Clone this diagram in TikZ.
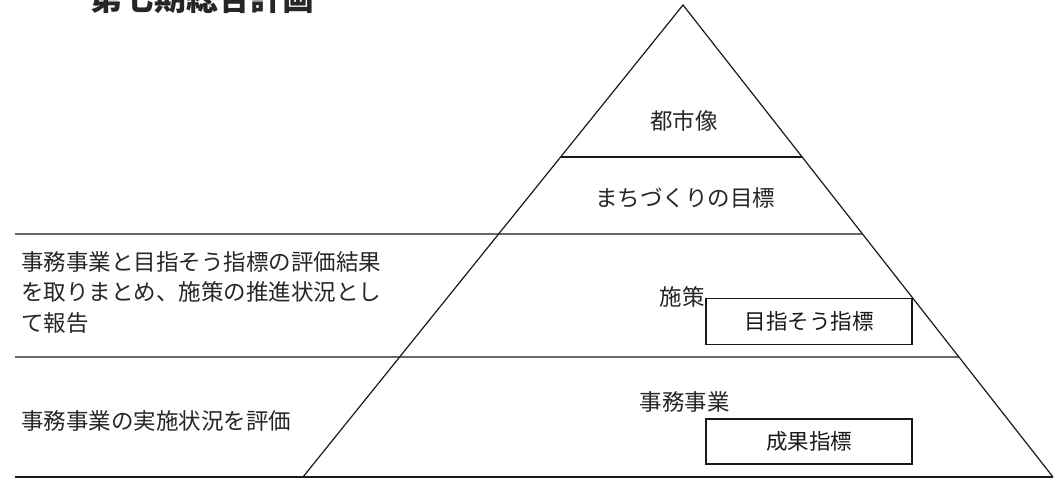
\documentclass[tikz,border=0pt]{standalone}
\usepackage{fontspec}
\setmainfont{Noto Sans CJK JP}
\usetikzlibrary{calc}
\begin{document}
\begin{tikzpicture}[x=1pt,y=-1pt,
  edge/.style={line width=1.2pt, draw=black!90},
  lbl/.style={inner sep=0pt, text=black!85, font=\fontsize{22.5}{30.3}\selectfont},
  indbox/.style={draw=black!90, line width=1.2pt, minimum width=206pt, minimum height=46pt, inner sep=0pt, text=black!90, font=\fontsize{21.5}{26}\selectfont}]
\useasboundingbox (0,0) rectangle (1061,480);
% pyramid
\coordinate (A) at (683,5);
\coordinate (BL) at (303,477);
\coordinate (BR) at (1053,477);
\coordinate (L2) at (15,234);
\coordinate (L3) at (15,357);
\coordinate (L4) at (15,477);
\draw[edge] (BL) -- (A) -- (BR);
\draw[edge] ($(A)!0.322!(BL)$) -- ($(A)!0.322!(BR)$);
\draw[edge] (L2) -- ($(A)!0.485!(BR)$);
\draw[edge] (L3) -- ($(A)!0.7458!(BR)$);
\draw[edge] (L4) -- (BR);
% title (cut at the top)
\node[anchor=base west, inner sep=0pt, text=black!85, font=\fontsize{32}{32}\selectfont\bfseries] (title) at (90,10) {第七期総合計画};
% pyramid labels
\node[lbl] (toshi) at (684,121) {都市像};
\node[lbl] (machi) at (685,197.5) {まちづくりの目標};
\node[lbl, anchor=east] (shisaku) at (705,296.5) {施策};
\node[indbox] (mezaso) at (809,321.5) {目指そう指標};
\node[lbl, anchor=east] (jimu) at (730,402) {事務事業};
\node[indbox, minimum height=45pt] (seika) at (809,441.5) {成果指標};
% left texts
\node[lbl, anchor=west, align=left] (rep) at (21,292.5) {事務事業と目指そう指標の評価結果\\を取りまとめ、施策の推進状況とし\\て報告};
\node[lbl, anchor=west] (eval) at (21,421) {事務事業の実施状況を評価};
\end{tikzpicture}
\end{document}
